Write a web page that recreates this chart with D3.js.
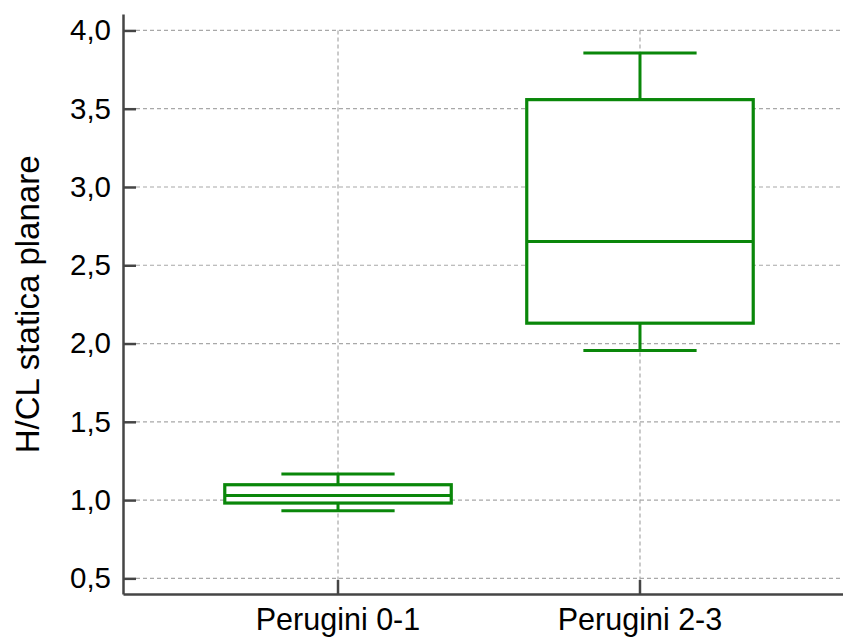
<!DOCTYPE html>
<html>
<head>
<meta charset="utf-8">
<script src="https://cdn.jsdelivr.net/npm/d3@7"></script>
<style>
  html, body { margin: 0; padding: 0; background: #fff; }
  svg { display: block; font-family: "Liberation Sans", Arial, Helvetica, sans-serif; }
</style>
</head>
<body>
<svg id="chart" width="843" height="637"></svg>
<script>
// ---- data ----
const categories = ["Perugini 0-1", "Perugini 2-3"];
const whiskerLow  = [0.932, 1.955];
const q1Values    = [0.981, 2.130];
const medians     = [1.029, 2.651];
const q3Values    = [1.098, 3.558];
const whiskerHigh = [1.166, 3.856];
const yTicks = [0.5, 1.0, 1.5, 2.0, 2.5, 3.0, 3.5, 4.0];
const yTitle = "H/CL statica planare";

// ---- layout ----
const W = 843, H = 637;
const mLeft = 123, mBottom = 594, mTop = 14;
const svg = d3.select("#chart");

const y = d3.scaleLinear().domain([0.4, 4.105]).range([mBottom, mTop]);
const x = d3.scaleBand().domain(categories).range([mLeft, 855]).paddingInner(0).paddingOuter(0.212);
const cx = d => x(d) + x.bandwidth() / 2;
const step = x.step();
const boxW = step * 0.75, capW = step * 0.375;

const green = "#0a870a";
const axisCol = "#454545";
const gridCol = "#a8a8a8";
const fmt = d => d3.format(".1f")(d).replace(".", ",");

// grid lines
svg.append("g").selectAll("line").data(yTicks).join("line")
  .attr("x1", mLeft + 13).attr("x2", W)
  .attr("y1", d => y(d)).attr("y2", d => y(d))
  .attr("stroke", gridCol).attr("stroke-width", 1.2).attr("stroke-dasharray", "4,3");
svg.append("g").selectAll("line").data(categories).join("line")
  .attr("x1", d => cx(d)).attr("x2", d => cx(d))
  .attr("y1", y(4.0)).attr("y2", mBottom - 14)
  .attr("stroke", gridCol).attr("stroke-width", 1.2).attr("stroke-dasharray", "4,3");

// boxes
const data = categories.map((c, i) => ({c, lo: whiskerLow[i], q1: q1Values[i], med: medians[i], q3: q3Values[i], hi: whiskerHigh[i]}));
const g = svg.append("g").selectAll("g").data(data).join("g");
g.append("line").attr("x1", d => cx(d.c)).attr("x2", d => cx(d.c))
  .attr("y1", d => y(d.hi)).attr("y2", d => y(d.q3)).attr("stroke", green).attr("stroke-width", 3);
g.append("line").attr("x1", d => cx(d.c)).attr("x2", d => cx(d.c))
  .attr("y1", d => y(d.q1)).attr("y2", d => y(d.lo)).attr("stroke", green).attr("stroke-width", 3);
g.append("line").attr("x1", d => cx(d.c) - capW / 2).attr("x2", d => cx(d.c) + capW / 2)
  .attr("y1", d => y(d.hi)).attr("y2", d => y(d.hi)).attr("stroke", green).attr("stroke-width", 3);
g.append("line").attr("x1", d => cx(d.c) - capW / 2).attr("x2", d => cx(d.c) + capW / 2)
  .attr("y1", d => y(d.lo)).attr("y2", d => y(d.lo)).attr("stroke", green).attr("stroke-width", 3);
g.append("rect").attr("x", d => cx(d.c) - boxW / 2).attr("width", boxW)
  .attr("y", d => y(d.q3)).attr("height", d => y(d.q1) - y(d.q3))
  .attr("fill", "#fff").attr("stroke", green).attr("stroke-width", 3.2);
g.append("line").attr("x1", d => cx(d.c) - boxW / 2).attr("x2", d => cx(d.c) + boxW / 2)
  .attr("y1", d => y(d.med)).attr("y2", d => y(d.med)).attr("stroke", green).attr("stroke-width", 3);

// y axis
const yAxis = svg.append("g").attr("transform", `translate(${mLeft},0)`)
  .call(d3.axisLeft(y).tickValues(yTicks).tickFormat(fmt).tickSize(-13).tickSizeOuter(0).tickPadding(12));
yAxis.select(".domain").attr("stroke", axisCol).attr("stroke-width", 2.5);
yAxis.selectAll(".tick line").attr("stroke", axisCol).attr("stroke-width", 2.5);
yAxis.selectAll("text").attr("font-size", 29.5).attr("fill", "#000").attr("font-family", "Liberation Sans, Arial, sans-serif");

// x axis
const xAxis = svg.append("g").attr("transform", `translate(0,${mBottom})`)
  .call(d3.axisBottom(x).tickSize(-14).tickSizeOuter(0).tickPadding(14));
xAxis.select(".domain").attr("stroke", axisCol).attr("stroke-width", 2.5);
xAxis.selectAll(".tick line").attr("stroke", axisCol).attr("stroke-width", 2.5);
xAxis.selectAll("text").attr("font-size", 30.5).attr("fill", "#000").attr("font-family", "Liberation Sans, Arial, sans-serif");

// y title
svg.append("text")
  .attr("transform", `translate(39,${(y(0.5) + y(4.0)) / 2}) rotate(-90)`)
  .attr("text-anchor", "middle")
  .attr("font-size", 33).attr("fill", "#000")
  .text(yTitle);
</script>
</body>
</html>
